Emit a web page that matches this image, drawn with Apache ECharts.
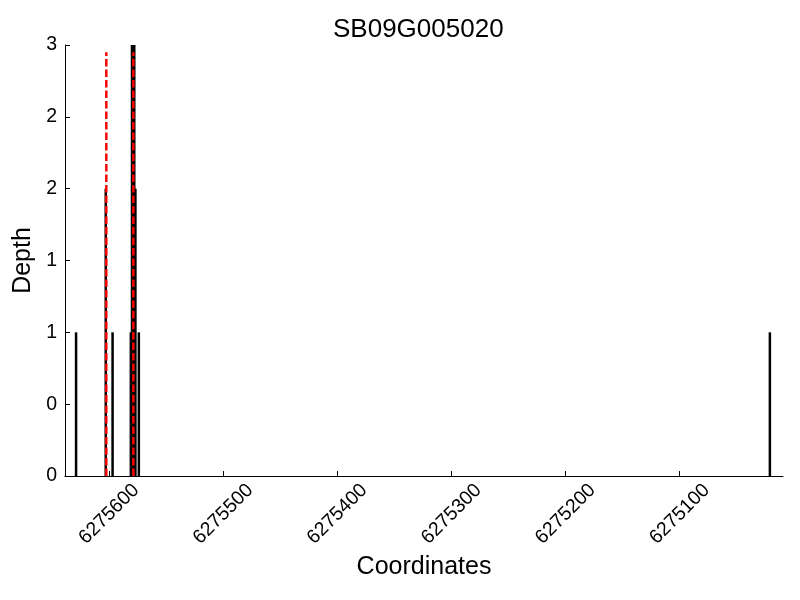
<!DOCTYPE html>
<html><head><meta charset="utf-8">
<script src="https://cdn.jsdelivr.net/npm/echarts@6/dist/echarts.min.js"></script>
<style>html,body{margin:0;padding:0;background:#fff}#c{width:800px;height:600px}</style>
</head><body><div id="c"></div>
<script>
const chartTitle = 'SB09G005020';
const positions = [6275629, 6275603, 6275597, 6275581, 6275580, 6275579, 6275578, 6275577, 6275574, 6275021];
const depths = [1, 2, 1, 1, 3, 3, 3, 2, 1, 1];
const markers = [6275602.5, 6275578.8];
const markerTop = 2.95;
const xTicks = [6275600, 6275500, 6275400, 6275300, 6275200, 6275100];

const font = 'Liberation Sans, Arial, sans-serif';
const chart = echarts.init(document.getElementById('c'), null, {renderer: 'canvas'});
const barData = positions.map((p, i) => [p, depths[i]]);
const markerSeries = markers.map(m => ({
  type: 'line', data: [[m, 0], [m, markerTop]], showSymbol: false, symbol: 'none',
  lineStyle: {color: '#ff0000', width: 2.5, type: [7.5, 3]}, z: 5, animation: false
}));
chart.setOption({
  animation: false,
  title: {text: chartTitle, left: 328, top: 12,
    textStyle: {fontFamily: font, fontSize: 26, fontWeight: 'normal', color: '#000'}},
  grid: {left: 65, right: 17, top: 45, bottom: 124, containLabel: false},
  xAxis: {
    type: 'value', inverse: true, min: 6275009.5, max: 6275638.7,
    name: 'Coordinates', nameLocation: 'middle', nameGap: 79,
    nameTextStyle: {fontFamily: font, fontSize: 25, color: '#000'},
    axisLine: {show: true, lineStyle: {color: '#000', width: 1}},
    axisTick: {show: true, inside: true, length: 5, customValues: xTicks, lineStyle: {color: '#000'}},
    axisLabel: {customValues: xTicks, rotate: 45, align: 'center', verticalAlign: 'middle', margin: 38,
      fontFamily: font, fontSize: 19.5, color: '#000', formatter: v => String(v)},
    splitLine: {show: false}
  },
  yAxis: {
    type: 'value', min: 0, max: 3, interval: 0.5,
    name: 'Depth', nameLocation: 'middle', nameGap: 29,
    nameTextStyle: {fontFamily: font, fontSize: 25, color: '#000'},
    axisLine: {show: true, lineStyle: {color: '#000', width: 1}},
    axisTick: {show: true, inside: true, length: 5, lineStyle: {color: '#000'}},
    axisLabel: {margin: 8, fontFamily: font, fontSize: 19.5, color: '#000', formatter: v => String(Math.floor(v))},
    splitLine: {show: false}
  },
  series: [{
    type: 'bar', data: barData, barWidth: 2.5, barGap: '-100%',
    itemStyle: {color: '#000'}, z: 3
  }].concat(markerSeries)
});
</script></body></html>
